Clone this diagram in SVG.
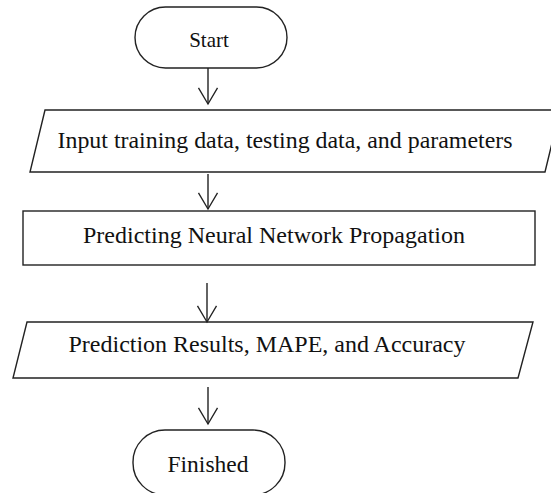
<svg xmlns="http://www.w3.org/2000/svg" width="551" height="493" viewBox="0 0 551 493">
<style>
.shape{fill:#fff;stroke:#222;stroke-width:1.4}
.conn{fill:none;stroke:#222;stroke-width:1.4}
.lbl{font-family:"Liberation Serif","Times New Roman",serif;fill:#111;text-anchor:middle}
</style>
<defs>
<marker id="open" markerUnits="userSpaceOnUse" markerWidth="20" markerHeight="24" viewBox="-19 -12 21 24" refX="0" refY="0" orient="auto">
<path d="M-17,-10 L0,0 L-17,10" fill="none" stroke="#222" stroke-width="1.4"/>
</marker>
</defs>
<rect width="551" height="493" fill="#fff"/>
<g id="start">
<rect class="shape" x="135" y="7" width="152" height="61" rx="30.5" ry="30.5"/>
<text class="lbl" x="209" y="47" font-size="21">Start</text>
</g>
<g id="input">
<polygon class="shape" points="45,110 560,110 545,172 30,172"/>
<text class="lbl" x="285" y="148" font-size="23" textLength="455" lengthAdjust="spacingAndGlyphs">Input training data, testing data, and parameters</text>
</g>
<g id="predicting">
<rect class="shape" x="23" y="211" width="512" height="54"/>
<text class="lbl" x="274" y="243" font-size="23" textLength="382" lengthAdjust="spacingAndGlyphs">Predicting Neural Network Propagation</text>
</g>
<g id="results">
<polygon class="shape" points="27,322 533,322 518,378 13,378"/>
<text class="lbl" x="267" y="352" font-size="23" textLength="397" lengthAdjust="spacingAndGlyphs">Prediction Results, MAPE, and Accuracy</text>
</g>
<g id="finished">
<rect class="shape" x="133" y="430" width="152" height="65" rx="32" ry="32"/>
<text class="lbl" x="208" y="472" font-size="23" textLength="81" lengthAdjust="spacingAndGlyphs">Finished</text>
</g>
<g id="connectors">
<line class="conn" x1="208" y1="68" x2="208" y2="104" marker-end="url(#open)"/>
<line class="conn" x1="208" y1="174" x2="208" y2="209" marker-end="url(#open)"/>
<line class="conn" x1="207" y1="283" x2="207" y2="322" marker-end="url(#open)"/>
<line class="conn" x1="208" y1="387" x2="208" y2="424" marker-end="url(#open)"/>
</g>
</svg>
